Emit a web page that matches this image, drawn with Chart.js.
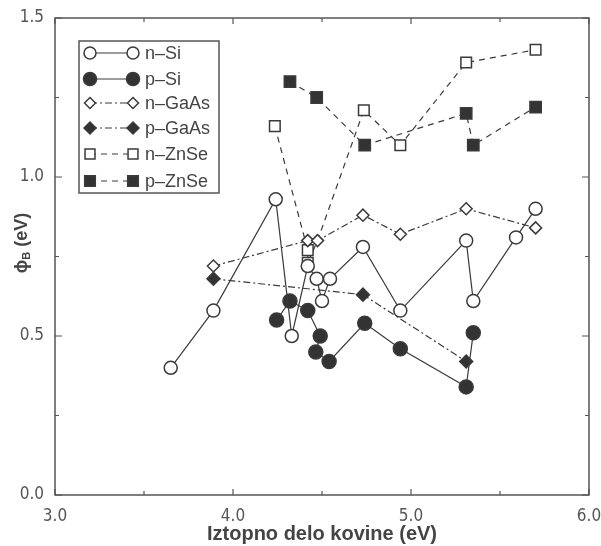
<!DOCTYPE html>
<html>
<head>
<meta charset="utf-8">
<script src="https://cdn.jsdelivr.net/npm/chart.js@4/dist/chart.umd.min.js"></script>
<style>
html, body { margin: 0; background: #fff; }
#wrap { width: 601px; height: 546px; }
</style>
</head>
<body>
<div id="wrap"><canvas id="phiChart"></canvas></div>
<script>
// work function of the metal (eV) vs barrier height (eV)
var nSiX = [3.65, 3.89, 4.24, 4.33, 4.42, 4.47, 4.50, 4.545, 4.73, 4.94, 5.31, 5.35, 5.59, 5.70];
var nSiY = [0.40, 0.58, 0.93, 0.50, 0.72, 0.68, 0.61, 0.68, 0.78, 0.58, 0.80, 0.61, 0.81, 0.90];
var pSiX = [4.245, 4.32, 4.42, 4.49, 4.465, 4.54, 4.74, 4.94, 5.31, 5.35];
var pSiY = [0.55, 0.61, 0.58, 0.50, 0.45, 0.42, 0.54, 0.46, 0.34, 0.51];
var nGaAsX = [3.89, 4.42, 4.475, 4.73, 4.94, 5.31, 5.70];
var nGaAsY = [0.72, 0.80, 0.80, 0.88, 0.82, 0.90, 0.84];
var pGaAsX = [3.89, 4.73, 5.31];
var pGaAsY = [0.68, 0.63, 0.42];
var nZnSeX = [4.235, 4.42, 4.42, 4.475, 4.735, 4.94, 5.31, 5.70];
var nZnSeY = [1.16, 0.77, 0.73, 0.80, 1.21, 1.10, 1.36, 1.40];
var pZnSeX = [4.32, 4.47, 4.74, 5.31, 5.35, 5.70];
var pZnSeY = [1.30, 1.25, 1.10, 1.20, 1.10, 1.22];

var xTicks = [3.0, 4.0, 5.0, 6.0];
var yTicks = [0.0, 0.5, 1.0, 1.5];

var ink = '#3a3a3a';

function pts(xs, ys) {
	return xs.map(function(x, i) { return { x: x, y: ys[i] }; });
}

function series(label, xs, ys, style, radius, filled, dash) {
	return {
		label: label,
		data: pts(xs, ys),
		showLine: true,
		borderColor: ink,
		borderWidth: 1.2,
		borderDash: dash,
		pointStyle: style,
		pointRadius: radius,
		pointBorderWidth: 1.5,
		pointBorderColor: ink,
		pointBackgroundColor: filled ? '#333' : '#fff',
		fill: false
	};
}

var datasets = [
	series('n–Si', nSiX, nSiY, 'circle', 6.5, false, []),
	series('p–Si', pSiX, pSiY, 'circle', 7, true, []),
	series('n–GaAs', nGaAsX, nGaAsY, 'rectRot', 6, false, [7, 3, 2, 3]),
	series('p–GaAs', pGaAsX, pGaAsY, 'rectRot', 6.5, true, [7, 3, 2, 3]),
	series('n–ZnSe', nZnSeX, nZnSeY, 'rect', 7.5, false, [6, 5]),
	series('p–ZnSe', pZnSeX, pZnSeY, 'rect', 8, true, [6, 5])
];
// the n-ZnSe line runs into the n-GaAs diamond there; no square drawn
datasets[4].pointRadius = nZnSeX.map(function(x, i) { return i === 3 ? 0 : 7.5; });

// box round the plot with inward ticks on all four sides
var framePlugin = {
	id: 'frame',
	beforeDatasetsDraw: function(chart) {
		var ctx = chart.ctx, a = chart.chartArea;
		var xs = chart.scales.x, ys = chart.scales.y;
		ctx.save();
		ctx.strokeStyle = '#555';
		ctx.lineWidth = 1.5;
		ctx.strokeRect(a.left, a.top, a.right - a.left, a.bottom - a.top);
		ctx.lineWidth = 1.2;
		ctx.beginPath();
		for (var v = 3; v <= 6.001; v += 0.5) {
			var px = xs.getPixelForValue(v);
			var len = (Math.abs(v - Math.round(v)) < 0.01) ? 6 : 4;
			ctx.moveTo(px, a.bottom); ctx.lineTo(px, a.bottom - len);
			ctx.moveTo(px, a.top); ctx.lineTo(px, a.top + len);
		}
		for (var w = 0; w <= 1.501; w += 0.25) {
			var py = ys.getPixelForValue(w);
			var l2 = (Math.abs(w * 2 - Math.round(w * 2)) < 0.01) ? 7 : 4;
			ctx.moveTo(a.left, py); ctx.lineTo(a.left + l2, py);
			ctx.moveTo(a.right, py); ctx.lineTo(a.right - l2, py);
		}
		ctx.stroke();
		ctx.restore();
	}
};

// legend box with marker-line-marker samples
var legendPlugin = {
	id: 'boxLegend',
	afterDatasetsDraw: function(chart) {
		var ctx = chart.ctx;
		ctx.save();
		ctx.fillStyle = '#fff';
		ctx.fillRect(79, 41, 140, 152);
		ctx.strokeStyle = '#555';
		ctx.lineWidth = 1.5;
		ctx.strokeRect(79, 41, 140, 152);
		var rows = [53, 79, 103, 128, 154, 181];
		chart.data.datasets.forEach(function(ds, i) {
			var y = rows[i];
			ctx.strokeStyle = ink;
			ctx.lineWidth = 1.2;
			ctx.setLineDash(ds.borderDash);
			ctx.beginPath();
			ctx.moveTo(90, y); ctx.lineTo(133, y);
			ctx.stroke();
			ctx.setLineDash([]);
			var r = Array.isArray(ds.pointRadius) ? 7.5 : ds.pointRadius;
			[90, 133].forEach(function(x) {
				ctx.fillStyle = ds.pointBackgroundColor;
				ctx.strokeStyle = ink;
				ctx.lineWidth = 1.5;
				Chart.helpers.drawPoint(ctx, { pointStyle: ds.pointStyle, radius: r - 0.5, rotation: 0, borderWidth: 1.5 }, x, y);
			});
			ctx.fillStyle = '#444';
			ctx.font = '18px "Liberation Sans", Arial, sans-serif';
			ctx.textBaseline = 'middle';
			ctx.textAlign = 'left';
			ctx.fillText(ds.label, 145, y + 1);
		});
		ctx.restore();
	}
};

// y title with subscript B
var yTitlePlugin = {
	id: 'yTitle',
	afterDraw: function(chart) {
		var ctx = chart.ctx;
		ctx.save();
		ctx.translate(22, 243);
		ctx.rotate(-Math.PI / 2);
		ctx.fillStyle = '#444';
		ctx.textBaseline = 'middle';
		var big = 'bold 18px "Liberation Sans", Arial, sans-serif';
		var small = 'bold 11px "Liberation Sans", Arial, sans-serif';
		ctx.font = big;
		var w1 = ctx.measureText('ϕ').width;
		var w3 = ctx.measureText(' (eV)').width;
		ctx.font = small;
		var w2 = ctx.measureText('B').width;
		var x = -(w1 + w2 + w3) / 2;
		ctx.font = big;
		ctx.fillText('ϕ', x, 0);
		ctx.font = small;
		ctx.fillText('B', x + w1, 5);
		ctx.font = big;
		ctx.fillText(' (eV)', x + w1 + w2, 0);
		ctx.restore();
	}
};

var tickFont = { family: '"DejaVu Sans Condensed", "DejaVu Sans", sans-serif', size: 17 };

var ctx = document.getElementById('phiChart').getContext('2d');
var config = {
	type: 'scatter',
	data: { datasets: datasets },
	options: {
		responsive: true,
		maintainAspectRatio: false,
		animation: false,
		layout: { padding: { top: 18, right: 12, left: 0, bottom: 0 } },
		plugins: {
			legend: { display: false },
			tooltip: { enabled: false }
		},
		scales: {
			x: {
				type: 'linear',
				min: 3, max: 6,
				afterBuildTicks: function(s) { s.ticks = xTicks.map(function(v) { return { value: v }; }); },
				afterFit: function(s) {
					s.height = 51;
					s.paddingLeft = 0;
					s.paddingRight = 0;
				},
				grid: { display: false, drawTicks: false },
				border: { display: false },
				ticks: {
					padding: 11,
					color: '#555',
					font: tickFont,
					maxRotation: 0,
					callback: function(v) { return v.toFixed(1); }
				},
				title: {
					display: true,
					text: 'Iztopno delo kovine (eV)',
					color: '#444',
					font: { family: '"Liberation Sans", Arial, sans-serif', size: 20, weight: 'bold' },
					padding: { top: 0, bottom: 0 }
				}
			},
			y: {
				type: 'linear',
				min: 0, max: 1.5,
				afterBuildTicks: function(s) { s.ticks = yTicks.map(function(v) { return { value: v }; }); },
				afterFit: function(s) {
					s.width = 55;
					s.paddingTop = 0;
					s.paddingBottom = 0;
				},
				grid: { display: false, drawTicks: false },
				border: { display: false },
				ticks: {
					padding: 11,
					color: '#555',
					font: tickFont,
					callback: function(v) { return v.toFixed(1); }
				}
			}
		}
	},
	plugins: [framePlugin, legendPlugin, yTitlePlugin]
};

var chart = new Chart(ctx, config);
</script>
</body>
</html>
